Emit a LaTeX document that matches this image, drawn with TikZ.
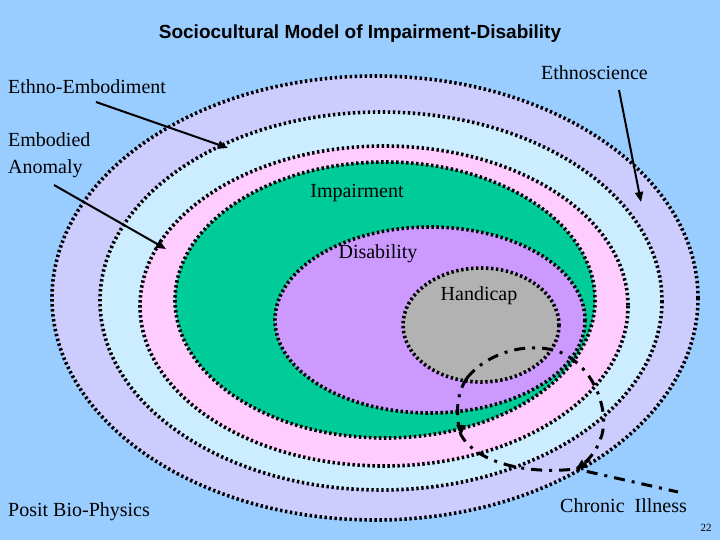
\documentclass[tikz,border=0pt]{standalone}
\usepackage{fontspec}
\setmainfont{Liberation Serif}
\newfontfamily\arial{Liberation Sans}
\usetikzlibrary{arrows.meta}
\definecolor{bg}{HTML}{99CCFF}
\definecolor{lav}{HTML}{CCCCFF}
\definecolor{lblue}{HTML}{CCECFF}
\definecolor{pink}{HTML}{FFCCFF}
\definecolor{grn}{HTML}{00CC99}
\definecolor{purp}{HTML}{CC99FF}
\definecolor{gry}{HTML}{B2B2B2}
\tikzset{ring/.style={draw=black,line width=3.6pt,dash pattern=on 2.4pt off 2.6pt},
 lbl/.style={font=\fontsize{20}{27}\selectfont,inner sep=0pt,align=left},
 arr/.style={line width=2pt,-{Triangle[length=10pt,width=8pt]}},
 dd/.style={line width=3pt,dash pattern=on 11pt off 7pt on 3pt off 7pt}}
\begin{document}
\begin{tikzpicture}[x=1pt,y=-1pt]
\fill[bg] (0,0) rectangle (720,540);
\useasboundingbox (0,0) rectangle (720,540);
\filldraw[ring,fill=lav] (375,298) ellipse [x radius=323,y radius=222];
\filldraw[ring,fill=lblue] (381,301) ellipse [x radius=281,y radius=189];
\filldraw[ring,fill=pink] (384,306) ellipse [x radius=244,y radius=160];
\filldraw[ring,fill=grn] (385,300) ellipse [x radius=210,y radius=138];
\filldraw[ring,fill=purp] (430,320) ellipse [x radius=155,y radius=93];
\filldraw[ring,fill=gry] (481,325) ellipse [x radius=78,y radius=57];
\node[font=\arial\bfseries\fontsize{19}{22}\selectfont] (title) at (360,34) {Sociocultural Model of Impairment-Disability};
\node[lbl,anchor=west] (ee) at (8,87) {Ethno-Embodiment};
\node[lbl,anchor=north west] (ea) at (8,132) {Embodied\\Anomaly};
\node[lbl,anchor=west] (es) at (541,73) {Ethnoscience};
\node[lbl] (imp) at (357,193) {Impairment};
\node[lbl] (dis) at (378,254) {Disability};
\node[lbl] (hc) at (479,296) {Handicap};
\node[lbl,anchor=west] (pb) at (8,512) {Posit Bio-Physics};
\node[lbl,anchor=west] (ci) at (560,506) {Chronic\ \ Illness};
\node[font=\fontsize{11}{12}\selectfont] (pg) at (706,528) {22};
\coordinate (eeA) at (96,102); \coordinate (eeB) at (228,148);
\coordinate (eaA) at (54,185); \coordinate (eaB) at (166,249);
\coordinate (esA) at (619,90); \coordinate (esB) at (641,202);
\draw[arr] (eeA) -- (eeB);
\draw[arr] (eaA) -- (eaB);
\draw[arr] (esA) -- (esB);
\coordinate (p1) at (467,378);
\coordinate (a1) at (461,435);
\coordinate (a2) at (576,469);
\coordinate (tail) at (678,492);
\draw[dd] (p1) .. controls (485,355) and (525,340) .. (560,352) .. controls (600,370) and (610,420) .. (600,440) .. controls (595,455) and (585,463) .. (a2);
\draw[dd] (p1) .. controls (455,395) and (456,420) .. (a1) .. controls (475,460) and (520,475) .. (a2) -- (tail);
\draw[-{Triangle[length=10pt,width=9pt]},line width=2pt] (461,425) -- (a1);
\draw[-{Triangle[length=10pt,width=9pt]},line width=2pt] (590,460) -- (a2);
\end{tikzpicture}
\end{document}
